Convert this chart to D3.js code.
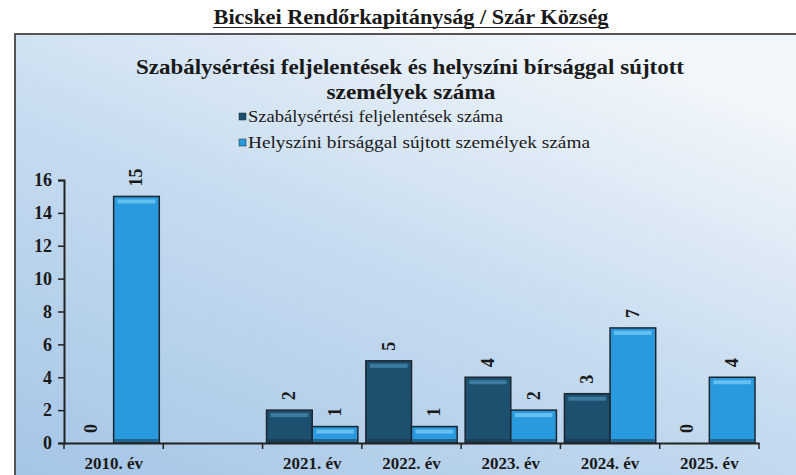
<!DOCTYPE html>
<html>
<head>
<meta charset="utf-8">
<script src="https://cdn.jsdelivr.net/npm/d3@7"></script>
<style>
  body { margin: 0; background: #fff; }
  svg { display: block; }
  text { font-family: "Liberation Serif", "Times New Roman", serif; fill: #1a1a1a; }
</style>
</head>
<body>
<svg id="chart" width="796" height="475"></svg>
<script>
// data
const categories = ["2010. év", "", "2021. év", "2022. év", "2023. év", "2024. év", "2025. év"];
const seriesNames = ["Szabálysértési feljelentések száma", "Helyszíni bírsággal sújtott személyek száma"];
const feljelentesek = [0, null, 2, 5, 4, 3, 0];
const birsag = [15, null, 1, 1, 2, 7, 4];
const yTicks = [0, 2, 4, 6, 8, 10, 12, 14, 16];

const colors = ["#1d4f6e", "#2a9ade"];
const highlight = ["#3f7fa3", "#6cc4f2"];

const svg = d3.select("#chart");
const defs = svg.append("defs");

const bg = defs.append("linearGradient")
    .attr("id", "bg")
    .attr("x1", "0%").attr("y1", "100%")
    .attr("x2", "70%").attr("y2", "0%");
bg.append("stop").attr("offset", "0%").attr("stop-color", "#a3c4e6");
bg.append("stop").attr("offset", "55%").attr("stop-color", "#c6dbef");
bg.append("stop").attr("offset", "100%").attr("stop-color", "#f1f6fa");

// page title
svg.append("text")
   .attr("x", 411).attr("y", 24)
   .attr("text-anchor", "middle")
   .attr("textLength", 395).attr("lengthAdjust", "spacingAndGlyphs")
   .style("font-size", "22px").style("font-weight", "bold")
   .text("Bicskei Rendőrkapitányság / Szár Község");
svg.append("line")
   .attr("x1", 213).attr("x2", 609)
   .attr("y1", 27.5).attr("y2", 27.5)
   .attr("stroke", "#222").attr("stroke-width", 1.2);

// framed chart area
svg.append("rect")
   .attr("x", 15).attr("y", 34)
   .attr("width", 800).attr("height", 460)
   .attr("fill", "url(#bg)")
   .attr("stroke", "#555").attr("stroke-width", 2);

svg.append("text")
   .attr("x", 410).attr("y", 74)
   .attr("text-anchor", "middle")
   .attr("textLength", 548).attr("lengthAdjust", "spacingAndGlyphs")
   .style("font-size", "22px").style("font-weight", "bold")
   .text("Szabálysértési feljelentések és helyszíni bírsággal sújtott");
svg.append("text")
   .attr("x", 411).attr("y", 99)
   .attr("text-anchor", "middle")
   .attr("textLength", 169).attr("lengthAdjust", "spacingAndGlyphs")
   .style("font-size", "22px").style("font-weight", "bold")
   .text("személyek száma");

// legend
const legendWidths = [255, 342];
const legend = svg.append("g");
seriesNames.forEach((name, i) => {
    const ly = 117 + i * 26;
    legend.append("rect")
          .attr("x", 239).attr("y", ly - 4)
          .attr("width", 7).attr("height", 7)
          .attr("fill", colors[i]).attr("stroke", "#1a2a35").attr("stroke-width", 0.5);
    legend.append("text")
          .attr("x", 248).attr("y", ly + 5)
          .attr("textLength", legendWidths[i]).attr("lengthAdjust", "spacingAndGlyphs")
          .style("font-size", "17px")
          .text(name);
});

// scales
const x0 = d3.scaleBand().domain(categories).range([64, 759]).padding(0);
const x1 = d3.scaleBand().domain([0, 1]).range([4, x0.bandwidth() - 4]).padding(0);
const y = d3.scaleLinear().domain([0, 16]).range([443, 180]);

// y axis
const yAxis = svg.append("g")
    .attr("transform", "translate(64,0)")
    .call(d3.axisLeft(y).tickValues(yTicks).tickSize(6).tickPadding(6));
yAxis.select(".domain").attr("stroke", "#222").attr("stroke-width", 2);
yAxis.selectAll(".tick line").attr("stroke", "#222").attr("stroke-width", 1.5);
yAxis.selectAll(".tick text")
     .style("font-family", "'Liberation Serif', serif")
     .style("font-size", "18px").style("font-weight", "bold").attr("fill", "#1a1a1a");

// bars
const series = [feljelentesek, birsag];
categories.forEach((cat, ci) => {
    series.forEach((vals, si) => {
        const v = vals[ci];
        if (v === null) return;
        const bx = x0(cat) + x1(si);
        const bw = x1.bandwidth();
        const top = y(v);
        if (v > 0) {
            const h = y(0) - top;
            svg.append("rect")
               .attr("x", bx).attr("y", top)
               .attr("width", bw).attr("height", h)
               .attr("fill", colors[si])
               .attr("stroke", "#1b2630").attr("stroke-width", 1.5);
            svg.append("rect")
               .attr("x", bx + 4).attr("y", top + 3)
               .attr("width", bw - 8).attr("height", Math.min(4, h - 5))
               .attr("fill", highlight[si]).attr("opacity", 0.9);
            svg.append("rect")
               .attr("x", bx + 1).attr("y", y(0) - 4)
               .attr("width", bw - 2).attr("height", 3)
               .attr("fill", "#17303f").attr("opacity", 0.5);
        }
        svg.append("text")
           .attr("transform", `translate(${bx + bw / 2 + 6},${top - 10}) rotate(-90)`)
           .style("font-size", "18px").style("font-weight", "bold")
           .text(v);
    });
});

// x axis
const xAxis = svg.append("g")
    .attr("transform", "translate(0,443)")
    .call(d3.axisBottom(x0).tickSize(0).tickPadding(14));
xAxis.select(".domain").attr("stroke", "#222").attr("stroke-width", 2);
xAxis.selectAll(".tick text")
     .style("font-family", "'Liberation Serif', serif")
     .style("font-size", "17px").style("font-weight", "bold").attr("fill", "#1a1a1a");
xAxis.selectAll(".sep")
     .data(d3.range(categories.length + 1))
     .enter().append("line")
     .attr("x1", i => 64 + i * x0.bandwidth())
     .attr("x2", i => 64 + i * x0.bandwidth())
     .attr("y1", 0).attr("y2", 6)
     .attr("stroke", "#222").attr("stroke-width", 1.5);
</script>
</body>
</html>
